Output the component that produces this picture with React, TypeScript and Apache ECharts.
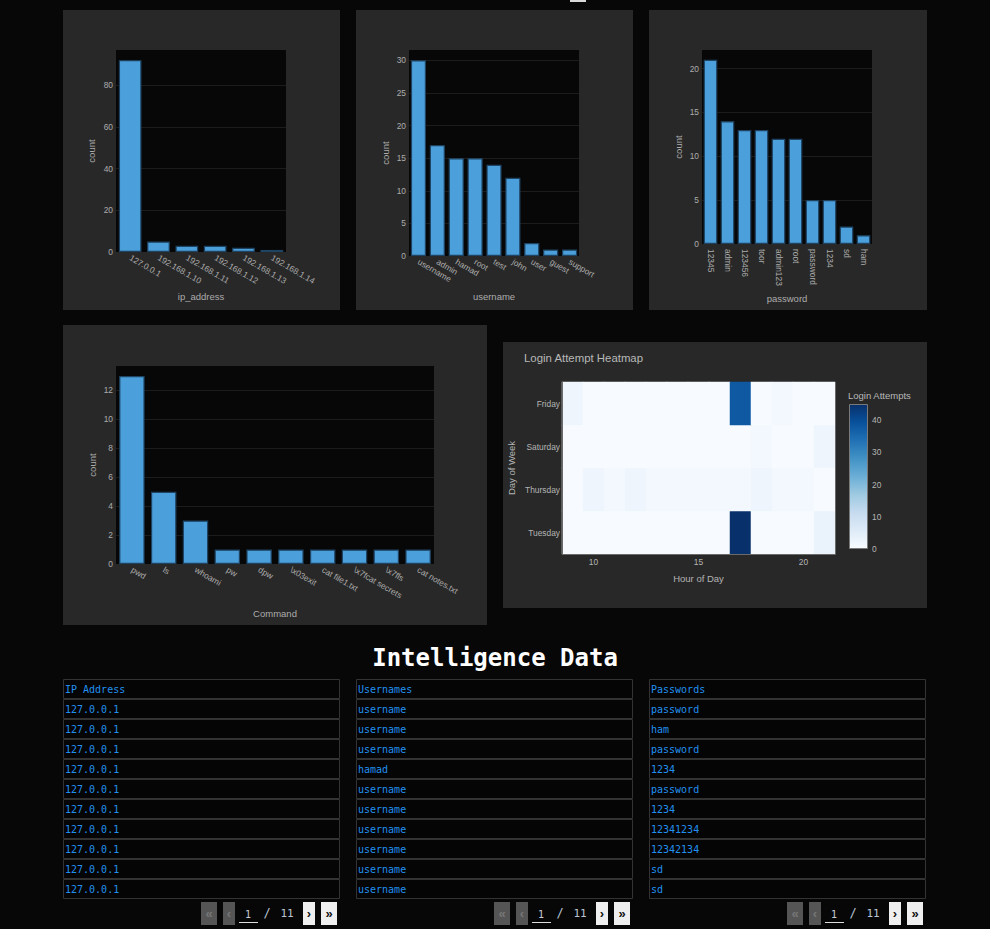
import React, { useEffect, useRef } from 'react';
import * as echarts from 'echarts';

// ---------- data ----------
const ipCategories = ['127.0.0.1', '192.168.1.10', '192.168.1.11', '192.168.1.12', '192.168.1.13', '192.168.1.14'];
const ipCounts = [92, 5, 3, 3, 2, 1];

const userCategories = ['username', 'admin', 'hamad', 'root', 'test', 'john', 'user', 'guest', 'support'];
const userCounts = [30, 17, 15, 15, 14, 12, 2, 1, 1];

const passwordCategories = ['12345', 'admin', '123456', 'toor', 'admin123', 'root', 'password', '1234', 'sd', 'ham'];
const passwordCounts = [21, 14, 13, 13, 12, 12, 5, 5, 2, 1];

const commandCategories = ['pwd', 'ls', 'whoami', 'pw', 'dpw', '\\x03exit', 'cat file1.txt', '\\x7fcat secrets', '\\x7fls', 'cat notes.txt'];
const commandCounts = [13, 5, 3, 1, 1, 1, 1, 1, 1, 1];

const hours = ['9', '10', '11', '12', '13', '14', '15', '16', '17', '18', '19', '20', '21'];
const hourTickLabels = ['10', '15', '20'];
const days = ['Tuesday', 'Thursday', 'Saturday', 'Friday'];
const tuesdayCounts = [0, 0, 0, 0, 0, 0, 0, 0, 45, 0, 0, 0, 3];
const thursdayCounts = [0, 2, 1, 2, 1, 1, 1, 1, 1, 2, 1, 1, 0];
const saturdayCounts = [0, 0, 0, 0, 0, 0, 0, 0, 0, 1, 0, 0, 2];
const fridayCounts = [2, 0, 0, 0, 0, 0, 0, 0, 38, 0, 1, 0, 0];

const ipTable = ['127.0.0.1', '127.0.0.1', '127.0.0.1', '127.0.0.1', '127.0.0.1', '127.0.0.1', '127.0.0.1', '127.0.0.1', '127.0.0.1', '127.0.0.1'];
const usernameTable = ['username', 'username', 'username', 'hamad', 'username', 'username', 'username', 'username', 'username', 'username'];
const passwordTable = ['password', 'ham', 'password', '1234', 'password', '1234', '12341234', '12342134', 'sd', 'sd'];
const tableHeaders = ['IP Address', 'Usernames', 'Passwords'];
const pageCurrent = '1';
const pageTotal = '11';

// ---------- styles ----------
const PAGE = '#070707';
const PANEL = '#282828';
const PLOT = '#070707';
const GRIDLINE = '#1c1c1c';
const TICK = '#acacac';
const FONT = '"Liberation Sans", Arial, sans-serif';
const MONO = '"DejaVu Sans Mono", "Liberation Mono", monospace';
const BAR = '#4b9fda';
const BAR_EDGE = '#1f4463';
const TABLE_TEXT = '#2290f0';
const BLUES = ['#f7fbff', '#deebf7', '#c6dbef', '#9ecae1', '#6baed6', '#4292c6', '#2171b5', '#08519c', '#08306b'];
const TICK_SIZE = 8.4;
const NAME_SIZE = 9.5;

type BarSpec = {
  cats: string[];
  vals: number[];
  name: string;
  box: [number, number, number, number];
  rotate: number;
  interval: number;
  labelMargin: number;
  xGap: number;
  yGap: number;
};

const barSpecs: BarSpec[] = [
  { cats: ipCategories, vals: ipCounts, name: 'ip_address', box: [116, 50, 170, 202], rotate: -30, interval: 20, labelMargin: 5, xGap: 39, yGap: 19.5 },
  { cats: userCategories, vals: userCounts, name: 'username', box: [409, 50, 170, 206], rotate: -30, interval: 5, labelMargin: 5, xGap: 35, yGap: 19 },
  { cats: passwordCategories, vals: passwordCounts, name: 'password', box: [702, 50, 170, 194], rotate: -90, interval: 5, labelMargin: 5, xGap: 49, yGap: 19 },
  { cats: commandCategories, vals: commandCounts, name: 'Command', box: [116, 366, 318, 198], rotate: -30, interval: 2, labelMargin: 5, xGap: 44.5, yGap: 19 },
];

function buildOption(): any {
  const grid: any[] = [];
  const xAxis: any[] = [];
  const yAxis: any[] = [];
  const series: any[] = [];

  barSpecs.forEach((s, i) => {
    const [left, top, width, height] = s.box;
    grid.push({ left, top, width, height, show: true, backgroundColor: PLOT, borderWidth: 0 });
    xAxis.push({
      type: 'category',
      gridIndex: i,
      data: s.cats,
      name: s.name,
      nameLocation: 'middle',
      nameGap: s.xGap,
      nameTextStyle: { color: TICK, fontSize: NAME_SIZE, fontFamily: FONT },
      axisLine: { show: false },
      axisTick: { show: false },
      axisLabel: { rotate: s.rotate, margin: s.labelMargin, color: TICK, fontSize: TICK_SIZE, fontFamily: FONT, interval: 0 },
    });
    yAxis.push({
      type: 'value',
      gridIndex: i,
      min: 0,
      max: Math.max(...s.vals) * 1.053,
      interval: s.interval,
      name: 'count',
      nameLocation: 'middle',
      nameGap: s.yGap,
      nameTextStyle: { color: TICK, fontSize: NAME_SIZE, fontFamily: FONT },
      axisLine: { show: false },
      axisTick: { show: false },
      axisLabel: { color: TICK, fontSize: TICK_SIZE, fontFamily: FONT, margin: 3, showMaxLabel: false },
      splitLine: { show: true, showMinLine: false, showMaxLine: false, lineStyle: { color: GRIDLINE, width: 1 } },
    });
    series.push({
      type: 'bar',
      xAxisIndex: i,
      yAxisIndex: i,
      data: s.vals,
      barCategoryGap: '20%',
      itemStyle: { color: BAR, borderColor: BAR_EDGE, borderWidth: 1.2 },
      silent: true,
    });
  });

  // heatmap
  const rows = [tuesdayCounts, thursdayCounts, saturdayCounts, fridayCounts];
  const heatData: number[][] = [];
  rows.forEach((r, yi) => r.forEach((v, xi) => heatData.push([xi, yi, v])));
  const heatMax = Math.max(...rows.flat());

  grid.push({ left: 562, top: 382, width: 273, height: 172, show: false });
  xAxis.push({
    type: 'category',
    gridIndex: 4,
    data: hours,
    name: 'Hour of Day',
    nameLocation: 'middle',
    nameGap: 19,
    nameTextStyle: { color: '#b4b4b4', fontSize: NAME_SIZE, fontFamily: FONT },
    axisLine: { show: false },
    axisTick: { show: false },
    axisLabel: {
      color: '#b4b4b4',
      fontSize: TICK_SIZE,
      fontFamily: FONT,
      margin: 4,
      interval: (_i: number, v: string) => hourTickLabels.includes(v),
    },
    splitLine: { show: false },
  });
  yAxis.push({
    type: 'category',
    gridIndex: 4,
    data: days,
    name: 'Day of Week',
    nameLocation: 'middle',
    nameGap: 46,
    nameTextStyle: { color: '#b4b4b4', fontSize: NAME_SIZE, fontFamily: FONT },
    axisLine: { show: false },
    axisTick: { show: false },
    axisLabel: { color: '#b4b4b4', fontSize: TICK_SIZE, fontFamily: FONT, margin: 2 },
    splitLine: { show: false },
  });
  series.push({
    type: 'heatmap',
    xAxisIndex: 4,
    yAxisIndex: 4,
    data: heatData,
    itemStyle: { borderWidth: 0 },
    emphasis: { disabled: true },
    silent: true,
  });

  // colorbar
  grid.push({ left: 849, top: 404, width: 19, height: 145, show: false });
  xAxis.push({ type: 'category', gridIndex: 5, data: [''], show: false });
  yAxis.push({
    type: 'value',
    gridIndex: 5,
    min: 0,
    max: heatMax,
    interval: 10,
    position: 'right',
    axisLine: { show: false },
    axisTick: { show: false },
    splitLine: { show: false },
    axisLabel: { color: '#b4b4b4', fontSize: TICK_SIZE, fontFamily: FONT, margin: 4, showMaxLabel: false },
  });
  series.push({
    type: 'bar',
    xAxisIndex: 5,
    yAxisIndex: 5,
    data: [heatMax],
    barWidth: '100%',
    silent: true,
    itemStyle: {
      color: new echarts.graphic.LinearGradient(
        0, 1, 0, 0,
        BLUES.map((c, i) => ({ offset: i / (BLUES.length - 1), color: c }))
      ),
      borderColor: '#7a7a7a',
      borderWidth: 1,
    },
  });

  // ---------- graphics ----------
  const graphic: any[] = [];
  const panels = [
    [63, 10, 277, 300],
    [356, 10, 277, 300],
    [649, 10, 278, 300],
    [63, 325, 424, 300],
    [503, 342, 424, 266],
  ];
  panels.forEach(([x, y, w, h]) =>
    graphic.push({ type: 'rect', z: -10, silent: true, shape: { x, y, width: w, height: h }, style: { fill: PANEL } })
  );
  graphic.push({ type: 'rect', z: -10, silent: true, shape: { x: 570, y: 0, width: 16, height: 2 }, style: { fill: '#d8d8d8' } });

  // heatmap frame
  graphic.push({
    type: 'polyline',
    z: 50,
    silent: true,
    shape: { points: [[562.5, 382], [562.5, 554.5], [835.5, 554.5], [835.5, 382]] },
    style: { stroke: '#6a6a6a', lineWidth: 1, fill: null },
  });
  graphic.push({
    type: 'text',
    z: 50,
    x: 848,
    y: 395,
    style: { text: 'Login Attempts', fill: '#b8b8b8', font: `${NAME_SIZE}px ${FONT}`, verticalAlign: 'middle' },
  });

  // Intelligence Data title
  graphic.push({
    type: 'text',
    z: 60,
    x: 495,
    y: 658,
    style: {
      text: 'Intelligence Data',
      fill: '#ffffff',
      font: `bold 24px ${MONO}`,
      align: 'center',
      verticalAlign: 'middle',
      textShadowColor: 'rgba(255,40,70,0.7)',
      textShadowOffsetX: -1,
      textShadowBlur: 0,
    },
  });

  // tables
  const tableData = [ipTable, usernameTable, passwordTable];
  const tableX = [63, 356, 649];
  const TW = 277;
  tableData.forEach((rowsT, ti) => {
    const X = tableX[ti];
    const all = [tableHeaders[ti], ...rowsT];
    all.forEach((txt, ri) => {
      const Y = 679 + ri * 20;
      graphic.push({
        type: 'rect',
        z: 60,
        silent: true,
        shape: { x: X + 0.5, y: Y + 0.5, width: TW - 1, height: 19 },
        style: { fill: '#050505', stroke: '#333333', lineWidth: 1 },
      });
      graphic.push({
        type: 'text',
        z: 61,
        x: X + 2,
        y: Y + 10.5,
        style: { text: txt, fill: TABLE_TEXT, font: `10px ${MONO}`, verticalAlign: 'middle' },
      });
    });

    // pagination
    const R = X + TW;
    const py = 902;
    const btn = (x: number, w: number, bg: string, glyph: string, fg: string) => {
      graphic.push({ type: 'rect', z: 60, silent: true, shape: { x, y: py, width: w, height: 23 }, style: { fill: bg } });
      graphic.push({
        type: 'text',
        z: 61,
        x: x + w / 2,
        y: py + 11,
        style: { text: glyph, fill: fg, font: `bold 13px ${FONT}`, align: 'center', verticalAlign: 'middle' },
      });
    };
    btn(R - 139, 16, '#555555', '«', '#777777');
    btn(R - 117, 12, '#555555', '‹', '#777777');
    btn(R - 37, 12, '#efefef', '›', '#111111');
    btn(R - 19, 16, '#efefef', '»', '#111111');
    graphic.push({
      type: 'text', z: 61, x: R - 92, y: py + 12,
      style: { text: pageCurrent, fill: '#c8ccd4', font: `10px ${MONO}`, align: 'center', verticalAlign: 'middle' },
    });
    graphic.push({
      type: 'line', z: 61, silent: true,
      shape: { x1: R - 101, y1: py + 20.5, x2: R - 82, y2: py + 20.5 },
      style: { stroke: '#dddddd', lineWidth: 1 },
    });
    graphic.push({
      type: 'text', z: 61, x: R - 73, y: py + 11,
      style: { text: '/', fill: '#b8c4d4', font: `12px ${MONO}`, align: 'center', verticalAlign: 'middle' },
    });
    graphic.push({
      type: 'text', z: 61, x: R - 53, y: py + 11,
      style: { text: pageTotal, fill: '#b8c4d4', font: `11px ${MONO}`, align: 'center', verticalAlign: 'middle' },
    });
  });

  return {
    animation: false,
    backgroundColor: PAGE,
    title: {
      text: 'Login Attempt Heatmap',
      left: 524,
      top: 352,
      padding: 0,
      textStyle: { color: '#b8b8b8', fontSize: 11.4, fontWeight: 'normal', fontFamily: FONT },
    },
    visualMap: {
      type: 'continuous',
      show: false,
      min: 0,
      max: heatMax,
      seriesIndex: 4,
      inRange: { color: BLUES },
    },
    grid,
    xAxis,
    yAxis,
    series,
    graphic,
  };
}

export default function App() {
  const ref = useRef<HTMLDivElement>(null);
  useEffect(() => {
    document.body.style.margin = '0';
    document.body.style.background = PAGE;
    if (!ref.current) return;
    const chart = echarts.init(ref.current, undefined, { renderer: 'svg' });
    chart.setOption(buildOption());
    return () => chart.dispose();
  }, []);
  return (
    <div
      ref={ref}
      style={{ position: 'absolute', left: 0, top: 0, width: 990, height: 929 }}
    />
  );
}
